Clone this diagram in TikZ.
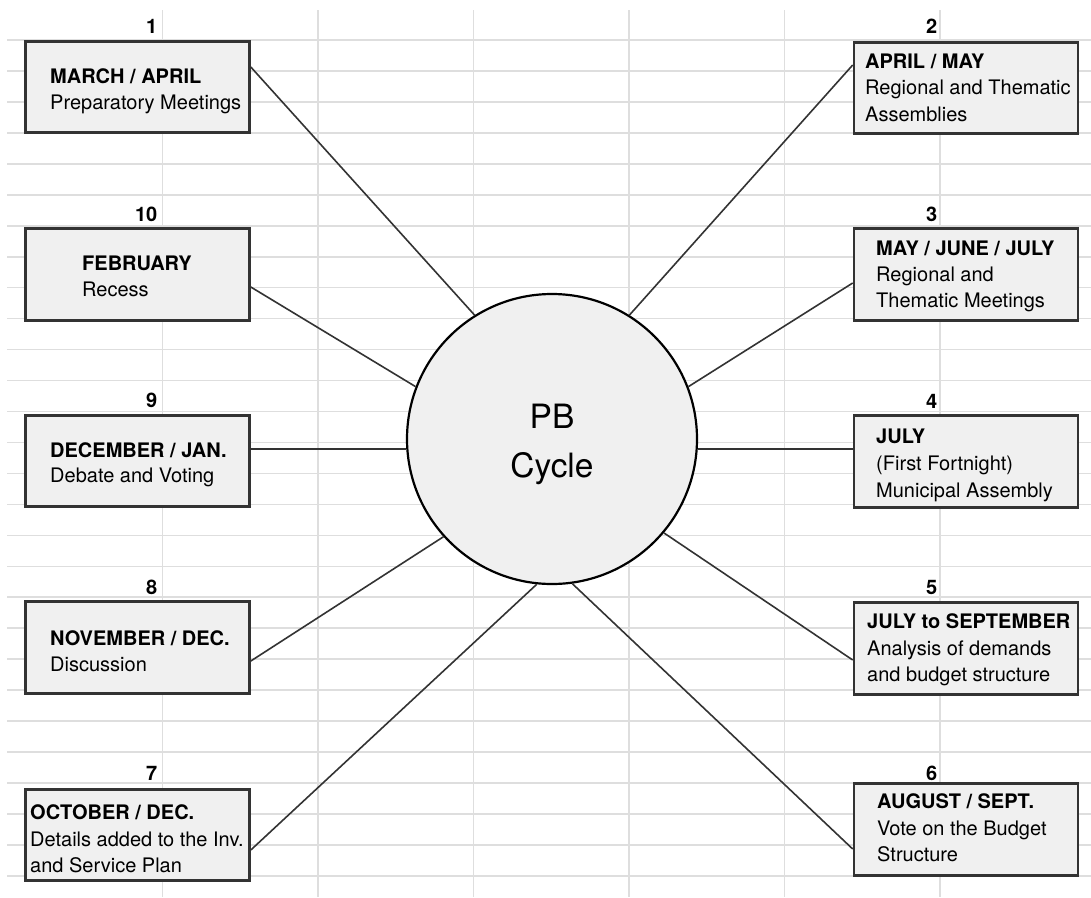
\documentclass[tikz,border=0pt]{standalone}
\usepackage{fontspec}
\setmainfont{TeX Gyre Heros}
\begin{document}
\begin{tikzpicture}[x=1pt,y=-1pt,
  gridline/.style={draw=black!13,line width=1.6pt},
  box/.style={draw=black!80,fill=black!6,line width=2.6pt,minimum width=224pt,minimum height=91.5pt,inner sep=0pt},
  hub/.style={circle,draw=black,fill=black!6,line width=2.2pt,minimum size=290pt,inner sep=0pt},
  conn/.style={draw=black!80,line width=1.6pt},
  txt/.style={anchor=base west,inner sep=0pt,font=\fontsize{20}{24}\selectfont},
  ttl/.style={txt,font=\fontsize{20}{24}\selectfont\bfseries},
  num/.style={anchor=base east,inner sep=0pt,font=\fontsize{20}{24}\selectfont\bfseries}]
\useasboundingbox (0,0) rectangle (1091,897);
\fill[white] (0,0) rectangle (1091,897);
% grid
\foreach \k in {1,...,28} {\draw[gridline] (7,9.04+30.96*\k) -- (1091,9.04+30.96*\k);}
\foreach \xx in {162.5,318,473.5,629,784.5,940} {\draw[gridline] (\xx,10) -- (\xx,897);}
% boxes
\node[box] (b1) at (137.5,87) {};
\node[box] (b2) at (966,88) {};
\node[box] (b10) at (137.5,274.5) {};
\node[box] (b3) at (966,274.5) {};
\node[box] (b9) at (137.5,461) {};
\node[box] (b4) at (966,461.5) {};
\node[box] (b8) at (137.5,647.5) {};
\node[box] (b5) at (966,648.5) {};
\node[box] (b7) at (137.5,835) {};
\node[box] (b6) at (966,829.5) {};
% hub
\node[hub] (c) at (552,439) {};
% connectors
\draw[conn] ([yshift=20pt]b1.east) -- (c.122);
\draw[conn] ([yshift=23pt]b2.west) -- (c.58);
\draw[conn] ([yshift=-12.5pt]b10.east) -- (c.159);
\draw[conn] ([yshift=-8.5pt]b3.west) -- (c.21);
\draw[conn] (c.184 -| b9.east) -- (c.184);
\draw[conn] (c.356 -| b4.west) -- (c.356);
\draw[conn] ([yshift=-13.5pt]b8.east) -- (c.222);
\draw[conn] ([yshift=-11.5pt]b5.west) -- (c.320);
\draw[conn] ([yshift=-15pt]b7.east) -- (c.264);
\draw[conn] ([yshift=-19.5pt]b6.west) -- (c.278);
% hub text
\node[anchor=base,inner sep=0pt,font=\fontsize{33.5}{38}\selectfont] (pb) at (552,428) {PB};
\node[anchor=base,inner sep=0pt,font=\fontsize{33.5}{38}\selectfont] (cy) at (552,477) {Cycle};
% numbers
\node[num] (n1) at (157.5,33) {1};
\node[num] (n10) at (157.5,221) {10};
\node[num] (n9) at (157.5,407) {9};
\node[num] (n8) at (157.5,594) {8};
\node[num] (n7) at (157.5,780) {7};
\node[num] (n2) at (937.5,33) {2};
\node[num] (n3) at (937.5,221) {3};
\node[num] (n4) at (937.5,408) {4};
\node[num] (n5) at (937.5,594) {5};
\node[num] (n6) at (937.5,780) {6};
% box texts
\node[ttl] (t1a) at (50,83) {MARCH / APRIL};
\node[txt] (t1b) at (50,109) {Preparatory Meetings};
\node[ttl] (t2a) at (865,68) {APRIL / MAY};
\node[txt] (t2b) at (865,94.5) {Regional and Thematic};
\node[txt] (t2c) at (865,121) {Assemblies};
\node[ttl] (t10a) at (82,270) {FEBRUARY};
\node[txt] (t10b) at (82,296) {Recess};
\node[ttl] (t3a) at (876,255) {MAY / JUNE / JULY};
\node[txt] (t3b) at (876,281) {Regional and};
\node[txt] (t3c) at (876,307) {Thematic Meetings};
\node[ttl] (t9a) at (50,457) {DECEMBER / JAN.};
\node[txt] (t9b) at (50,482) {Debate and Voting};
\node[ttl] (t4a) at (876,443) {JULY};
\node[txt] (t4b) at (876,470) {(First Fortnight)};
\node[txt] (t4c) at (876,497) {Municipal Assembly};
\node[ttl] (t8a) at (50,645) {NOVEMBER / DEC.};
\node[txt] (t8b) at (50,671) {Discussion};
\node[ttl] (t5a) at (867,628) {JULY to SEPTEMBER};
\node[txt] (t5b) at (867,655) {Analysis of demands};
\node[txt] (t5c) at (867,681.5) {and budget structure};
\node[ttl] (t7a) at (30,819) {OCTOBER / DEC.};
\node[txt] (t7b) at (30,846) {Details added to the Inv.};
\node[txt] (t7c) at (30,872.5) {and Service Plan};
\node[ttl] (t6a) at (877,808) {AUGUST / SEPT.};
\node[txt] (t6b) at (877,835) {Vote on the Budget};
\node[txt] (t6c) at (877,861.5) {Structure};
\end{tikzpicture}
\end{document}
